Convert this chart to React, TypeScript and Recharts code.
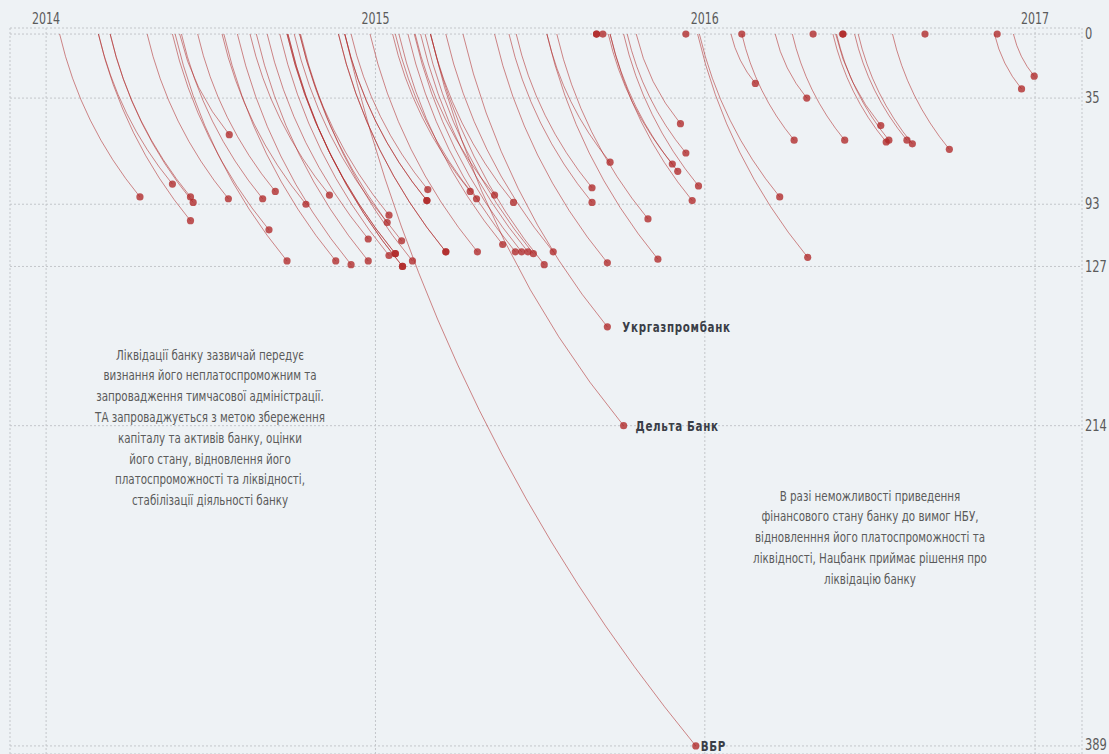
import React from 'react';
import {
  ComposedChart, Line, Scatter, XAxis, YAxis, CartesianGrid, LabelList,
} from 'recharts';

/* colours */
const C = {
  bg: '#eef2f5',
  grid: '#c3c6ca',
  bank: '#af2828',
  tick: '#5b5b5b',
  text: '#5a5a5a',
  label: '#3a3e47',
};

const FONT = "'Liberation Sans Narrow', 'DejaVu Sans Condensed', 'Open Sans', sans-serif";
const NARROW = 0.82; // squeeze the condensed font a bit more

// start of temporary administration
const startDates = [
  '2014-01-16', '2014-02-28', '2014-03-13', '2014-03-13', '2014-02-28', '2014-05-29',
  '2014-04-23', '2014-05-31', '2014-06-18', '2014-05-21', '2014-05-24', '2014-07-15',
  '2014-08-15', '2014-09-03', '2014-07-17', '2014-08-01', '2014-08-22', '2014-10-09',
  '2014-10-03', '2014-10-09', '2014-09-17', '2014-09-25', '2014-09-25', '2014-09-26',
  '2014-09-26', '2014-10-10', '2014-12-05', '2014-11-28', '2014-11-28', '2014-11-21',
  '2014-11-21', '2015-01-20', '2015-01-23', '2015-02-14', '2015-03-03', '2014-12-26',
  '2015-01-27', '2015-02-06', '2015-02-13', '2015-02-20', '2015-02-25', '2015-03-20',
  '2015-03-03', '2015-09-03', '2015-09-03', '2015-09-10', '2015-07-10', '2015-06-06',
  '2015-05-29', '2015-05-13', '2015-07-21', '2015-07-10', '2015-10-17', '2015-10-07',
  '2015-09-16', '2015-09-18', '2015-10-03', '2015-09-18', '2015-12-11', '2016-02-11',
  '2016-01-30', '2016-04-30', '2016-03-19', '2016-02-11', '2016-06-02', '2016-06-02',
  '2016-04-07', '2016-05-25', '2016-05-22', '2016-05-26', '2016-06-15', '2016-06-19',
  '2016-09-01', '2016-07-27', '2016-11-20', '2016-11-17', '2016-12-08', '2015-12-26',
  '2015-12-24',
];

// days from temporary administration to the liquidation decision
const daysToLiquidation = [
  89, 82, 89, 92, 102, 55,
  90, 90, 86, 107, 124, 93,
  88, 112, 124, 126, 124, 99,
  103, 113, 121, 120, 120, 127,
  127, 124, 85, 91, 91, 119,
  119, 86, 90, 88, 92, 119,
  115, 119, 119, 119, 120, 119,
  126, 0, 0, 0, 70, 84,
  92, 125, 101, 123, 49, 65,
  71, 75, 83, 91, 0, 0,
  27, 0, 35, 58, 0, 0,
  58, 50, 59, 58, 58, 60,
  0, 63, 0, 30, 23, 89,
  122,
];

const namedBanks = [
  { name: 'Укргазпромбанк', start: '2015-04-08', days: 160 },
  { name: 'Дельта Банк', start: '2015-03-03', days: 214 },
  { name: 'ВБР', start: '2014-11-28', days: 389 },
];

const years = ['2014', '2015', '2016', '2017'];
const dayTicks = [0, 35, 93, 127, 214, 389];

const leftNote = [
  'Ліквідації банку зазвичай передує',
  'визнання його неплатоспроможним та',
  'запровадження тимчасової адміністрації.',
  'ТА запроваджується з метою збереження',
  'капіталу та активів банку, оцінки',
  'його стану, відновлення його',
  'платоспроможності та ліквідності,',
  'стабілізації діяльності банку',
];

const rightNote = [
  'В разі неможливості приведення',
  'фінансового стану банку до вимог НБУ,',
  'відновленння його платоспроможності та',
  'ліквідності, Нацбанк приймає рішення про',
  'ліквідацію банку',
];

const EPOCH = Date.parse('2014-01-01');
const toDay = (iso: string) => (Date.parse(iso) - EPOCH) / 86400000;

const banks = [
  ...startDates.map((s, i) => ({ start: toDay(s), days: daysToLiquidation[i], name: '' })),
  ...namedBanks.map((b) => ({ start: toDay(b.start), days: b.days, name: b.name })),
];
const ends = banks.map((b) => ({ x: b.start + b.days, y: b.days, name: b.name }));
const yearDays = years.map((y) => toDay(`${y}-01-01`));

/* circular arc between the two points of a series (bulging down-left) */
const ARC_K = 2.2;
function arcCurve(context: any) {
  let pts: Array<[number, number]> = [];
  return {
    areaStart() {},
    areaEnd() {},
    lineStart() { pts = []; },
    point(x: number, y: number) { pts.push([x, y]); },
    lineEnd() {
      if (pts.length < 2) return;
      const [x0, y0] = pts[0];
      const [x1, y1] = pts[pts.length - 1];
      const dx = x1 - x0;
      const dy = y1 - y0;
      const c = Math.hypot(dx, dy);
      context.moveTo(x0, y0);
      if (c < 1) return;
      const r = c * ARC_K;
      const h = Math.sqrt(r * r - (c / 2) * (c / 2));
      const cx = (x0 + x1) / 2 + (dy / c) * h;
      const cy = (y0 + y1) / 2 - (dx / c) * h;
      context.arc(cx, cy, r, Math.atan2(y0 - cy, x0 - cx), Math.atan2(y1 - cy, x1 - cx), true);
    },
  };
}

const YearTick = (props: any) => {
  const { x, y, payload } = props;
  return (
    <text transform={`translate(${x},${y}) scale(${NARROW},1)`} textAnchor="middle"
      fill={C.tick} fontFamily={FONT} fontSize={15}>
      {years[yearDays.indexOf(payload.value)]}
    </text>
  );
};

const DayTick = (props: any) => {
  const { x, y, payload } = props;
  return (
    <text transform={`translate(${x},${y}) scale(0.85,1)`} textAnchor="start" dy="0.35em"
      fill={C.tick} fontFamily={FONT} fontSize={15}>
      {payload.value}
    </text>
  );
};

const labelDx: Record<string, number> = { 'Укргазпромбанк': 15, 'Дельта Банк': 12, 'ВБР': 5 };

const BankLabel = (props: any) => {
  const { x, y, width = 0, height = 0, value } = props;
  if (!value) return null;
  const cx = x + width / 2;
  const cy = y + height / 2;
  return (
    <text transform={`translate(${cx + labelDx[value]},${cy}) scale(${NARROW},1)`} dy="0.35em"
      fill={C.label} fontFamily={FONT} fontSize={14} fontWeight={700} letterSpacing={0.8}>
      {value}
    </text>
  );
};

const Dot = (props: any) => (
  <circle cx={props.cx} cy={props.cy} r={3.6} fill={C.bank} fillOpacity={0.78} />
);

function Note({ lines, cx, top }: { lines: string[]; cx: number; top: number }) {
  return (
    <div style={{
      position: 'absolute', left: cx - 200, top, width: 400, textAlign: 'center',
      fontFamily: FONT, fontSize: 14, lineHeight: '20.8px', color: C.text,
      transform: `scaleX(${NARROW})`, transformOrigin: 'center top',
    }}>
      {lines.map((l, i) => <div key={i}>{l}</div>)}
    </div>
  );
}

export default function App() {
  return (
    <div style={{ position: 'relative', width: 1109, height: 754, background: C.bg, overflow: 'hidden' }}>
      <style>{`body{margin:0;background:${C.bg}}`}</style>
      <ComposedChart width={1109} height={754} margin={{ top: 0, right: 0, bottom: 0, left: 10 }}>
        <CartesianGrid stroke={C.grid} strokeDasharray="2 2" />
        <XAxis
          type="number" dataKey="x" orientation="top" height={28}
          domain={[-40, 1148]} allowDataOverflow ticks={yearDays}
          axisLine={false} tickLine={false} tickSize={0} tickMargin={4}
          tick={YearTick}
        />
        <YAxis
          type="number" dataKey="y" orientation="right" width={27} reversed
          domain={[-3.3, 393.4]} allowDataOverflow ticks={dayTicks}
          axisLine={false} tickLine={false} tickSize={0} tickMargin={3}
          tick={DayTick}
        />
        {banks.map((b, i) => (
          <Line
            key={i}
            data={[{ x: b.start, y: 0 }, { x: b.start + b.days, y: b.days }]}
            dataKey="y"
            type={arcCurve as any}
            stroke={C.bank}
            strokeOpacity={0.55}
            strokeWidth={1}
            dot={false}
            activeDot={false}
            isAnimationActive={false}
          />
        ))}
        <Scatter data={ends} dataKey="y" shape={Dot} isAnimationActive={false}>
          <LabelList dataKey="name" content={BankLabel} />
        </Scatter>
      </ComposedChart>
      <Note lines={leftNote} cx={210} top={344.6} />
      <Note lines={rightNote} cx={870} top={485.6} />
    </div>
  );
}
